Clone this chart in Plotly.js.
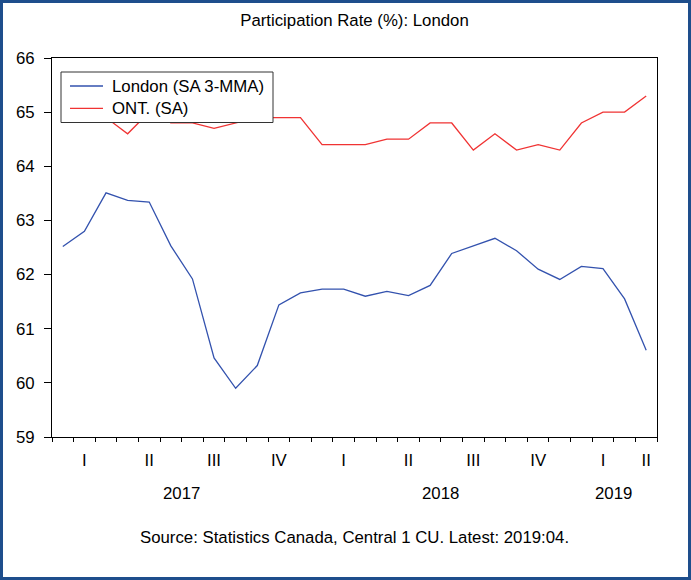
<!DOCTYPE html>
<html>
<head>
<meta charset="utf-8">
<script src="https://cdn.plot.ly/plotly-3.0.1.min.js"></script>
<style>
  html, body { margin: 0; padding: 0; background: #fff; }
  #wrap { position: relative; width: 691px; height: 580px; }
  #chart { width: 691px; height: 580px; }
  #frame { position: absolute; left: 0; top: 0; width: 691px; height: 580px; box-sizing: border-box;
           border: 3px solid #1E4E8C; pointer-events: none; }
</style>
</head>
<body>
<div id="wrap"><div id="chart"></div><div id="frame"></div></div>
<script>
// Monthly periods, Jan 2017 - Apr 2019
const months = ['2017-01','2017-02','2017-03','2017-04','2017-05','2017-06','2017-07','2017-08','2017-09','2017-10','2017-11','2017-12',
                '2018-01','2018-02','2018-03','2018-04','2018-05','2018-06','2018-07','2018-08','2018-09','2018-10','2018-11','2018-12',
                '2019-01','2019-02','2019-03','2019-04'];
// London (SA 3-MMA)
const london = [62.52, 62.80, 63.51, 63.37, 63.34, 62.53, 61.92, 60.46, 59.90, 60.32, 61.44, 61.66,
                61.73, 61.73, 61.60, 61.69, 61.61, 61.80, 62.39, 62.53, 62.67, 62.44, 62.10, 61.91,
                62.15, 62.11, 61.55, 60.60];
// ONT. (SA)
const ontario = [64.9, 64.9, 64.9, 64.6, 65.0, 64.8, 64.8, 64.7, 64.8, 64.9, 64.9, 64.9,
                 64.4, 64.4, 64.4, 64.5, 64.5, 64.8, 64.8, 64.3, 64.6, 64.3, 64.4, 64.3,
                 64.8, 65.0, 65.0, 65.3];
const seriesNames = ['London (SA 3-MMA)', 'ONT. (SA)'];
const quarterNames = ['I','II','III','IV'];
const yTicks = [59, 60, 61, 62, 63, 64, 65, 66];

const idx = months.map((m, i) => i);
const FONT = 'Arial, "Liberation Sans", sans-serif';
const FS = 16.8;
const COLORS = ['#3352AE', '#F03333'];

// quarter groups and year groups derived from the months
const qGroups = {}, yGroups = {};
months.forEach((m, i) => {
  const y = m.slice(0, 4), mo = parseInt(m.slice(5), 10);
  const q = Math.floor((mo - 1) / 3);
  const key = y + 'Q' + q;
  (qGroups[key] = qGroups[key] || {q: q, list: []}).list.push(i);
  (yGroups[y] = yGroups[y] || []).push(i);
});
const mean = a => a.reduce((s, v) => s + v, 0) / a.length;
const qKeys = Object.keys(qGroups);
const qCenters = qKeys.map(k => mean(qGroups[k].list));
const qLabels = qKeys.map(k => quarterNames[qGroups[k].q]);
const qBounds = qKeys.map(k => qGroups[k].list[0] - 0.5).concat([months.length - 0.5]);
const years = Object.keys(yGroups);
const xr = [-0.5, months.length - 0.5];

// plot-area geometry (pixels) for the hand-drawn legend box
const W = 691, H = 580, M = {l: 52, r: 34, t: 58, b: 143};
const PW = W - M.l - M.r, PH = H - M.t - M.b;
const fx = px => (px - M.l) / PW;
const fy = py => (M.t + PH - py) / PH;

const traces = [
  {x: idx, y: london, type: 'scatter', mode: 'lines', name: seriesNames[0],
   line: {color: COLORS[0], width: 1.3}, xaxis: 'x', yaxis: 'y', showlegend: false},
  {x: idx, y: ontario, type: 'scatter', mode: 'lines', name: seriesNames[1],
   line: {color: COLORS[1], width: 1.3}, xaxis: 'x', yaxis: 'y', showlegend: false},
  // invisible helper so the quarter-label axis is drawn
  {x: [xr[0]], y: [london[0]], type: 'scatter', mode: 'lines', xaxis: 'x2', yaxis: 'y',
   showlegend: false, hoverinfo: 'skip', line: {width: 0}, opacity: 0}
];

const annotations = years.map(y => ({
  x: mean(yGroups[y]), xref: 'x', y: -0.148, yref: 'paper', text: y, showarrow: false,
  xanchor: 'center', yanchor: 'middle', font: {family: FONT, size: FS, color: '#000'}
}));
annotations.push({
  x: 0.5, xref: 'paper', y: -0.264, yref: 'paper', showarrow: false,
  text: 'Source: Statistics Canada, Central 1 CU. Latest: 2019:04.',
  xanchor: 'center', yanchor: 'middle', font: {family: FONT, size: FS, color: '#000'}
});

// legend (box, line samples, labels)
const shapes = [{type: 'rect', xref: 'paper', yref: 'paper', x0: fx(61), x1: fx(273), y0: fy(72), y1: fy(122.5),
                 fillcolor: '#fff', line: {color: '#333', width: 1}, layer: 'above'}];
seriesNames.forEach((n, k) => {
  const cy = 86 + k * 22.3;
  shapes.push({type: 'line', xref: 'paper', yref: 'paper', x0: fx(70), x1: fx(103), y0: fy(cy), y1: fy(cy),
               line: {color: COLORS[k], width: 1.3}, layer: 'above'});
  annotations.push({x: fx(110), xref: 'paper', y: fy(cy), yref: 'paper', text: n, showarrow: false,
                    xanchor: 'left', yanchor: 'middle', font: {family: FONT, size: FS, color: '#000'}});
});

const layout = {
  width: W, height: H,
  margin: M,
  paper_bgcolor: '#fff', plot_bgcolor: '#fff',
  font: {family: FONT, size: FS, color: '#000'},
  title: {text: 'Participation Rate (%): London', font: {family: FONT, size: FS, color: '#000'},
          x: 0.5, xref: 'paper', xanchor: 'center', y: 1 - 20 / 580, yref: 'container', yanchor: 'middle'},
  showlegend: false,
  xaxis: {range: xr, tickmode: 'array', tickvals: qBounds, ticktext: qBounds.map(() => ''),
          ticks: 'outside', ticklen: 8, tickcolor: '#000', tickwidth: 1,
          showline: true, linecolor: '#000', linewidth: 1, mirror: true,
          showgrid: false, zeroline: false, showticklabels: false,
          minor: {tick0: -0.5, dtick: 1, ticks: 'outside', ticklen: 4, tickcolor: '#000', showgrid: false}},
  xaxis2: {range: xr, overlaying: 'x', anchor: 'y', side: 'bottom', tickmode: 'array',
           tickvals: qCenters, ticktext: qLabels, ticks: '', showline: false, showgrid: false,
           zeroline: false, ticklabelstandoff: 11, tickfont: {family: FONT, size: FS, color: '#000'}},
  yaxis: {range: [59, 66], tickmode: 'array', tickvals: yTicks, ticks: 'outside', ticklen: 7,
          tickcolor: '#000', showline: true, linecolor: '#000', linewidth: 1, mirror: true,
          showgrid: false, zeroline: false, ticklabelstandoff: 6, tickfont: {family: FONT, size: FS, color: '#000'}},
  annotations: annotations,
  shapes: shapes
};

Plotly.newPlot('chart', traces, layout, {displayModeBar: false, staticPlot: true});
</script>
</body>
</html>
